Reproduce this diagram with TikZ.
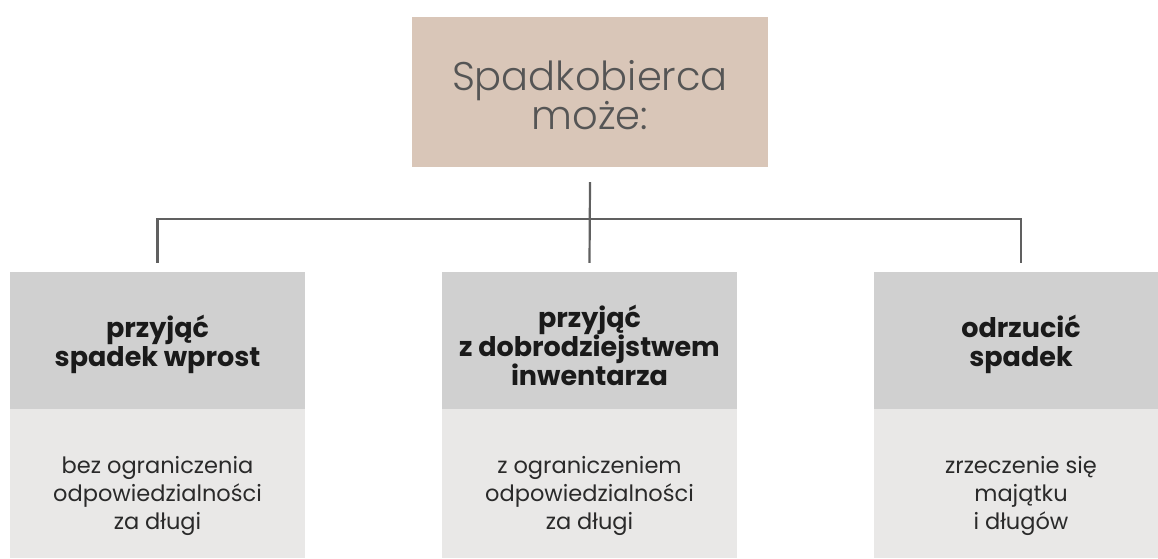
\documentclass[tikz,border=0pt]{standalone}
\usepackage{fontspec}
\setmainfont{Poppins}
\newfontfamily\lightfont{Poppins Light}
\definecolor{topbg}{HTML}{D9C6B8}
\definecolor{headbg}{HTML}{D0D0D0}
\definecolor{bodybg}{HTML}{E9E8E7}
\definecolor{linec}{HTML}{606060}
\definecolor{toptext}{HTML}{555555}
\definecolor{boldtext}{HTML}{1A1A1A}
\definecolor{bodytext}{HTML}{2A2A2A}
\begin{document}
\begin{tikzpicture}[x=1pt,y=-1pt,
  topbox/.style={fill=topbg, minimum width=356pt, minimum height=150pt, inner sep=0pt},
  toplabel/.style={text=toptext, align=center, inner sep=0pt, font=\lightfont\fontsize{40}{38}\selectfont},
  headbox/.style={fill=headbg, minimum width=295pt, minimum height=137pt, inner sep=0pt},
  headlabel/.style={align=center, inner sep=0pt, text=boldtext, font=\bfseries\fontsize{27}{29}\selectfont},
  bodybox/.style={fill=bodybg, minimum width=295pt, minimum height=149pt, inner sep=0pt},
  bodylabel/.style={align=center, inner sep=0pt, text=bodytext, font=\fontsize{22.5}{28}\selectfont},
  conn/.style={draw=linec, line width=2.2pt}]
\useasboundingbox (0,0) rectangle (1158,558);
\node[topbox] (top) at (590,92) {};
\node[toplabel] (topt) at ([yshift=-3pt]top.center) {Spadkobierca\\może:};
\node[headbox] (h1) at (157.5,340.5) {};
\node[headbox] (h2) at (589.5,340.5) {};
\node[headbox] (h3) at (1021,340.5) {};
\node[headlabel] (h1t) at ([yshift=-4pt]h1.center) {przyjąć\\spadek wprost};
\node[headlabel] (h2t) at ([yshift=-5pt]h2.center) {przyjąć\\z dobrodziejstwem\\inwentarza};
\node[headlabel] (h3t) at ([yshift=-4pt]h3.center) {odrzucić\\spadek};
\node[bodybox] (b1) at (157.5,483.5) {};
\node[bodybox] (b2) at (589.5,483.5) {};
\node[bodybox] (b3) at (1021,483.5) {};
\node[bodylabel] (b1t) at ([yshift=-12pt]b1.center) {bez ograniczenia\\odpowiedzialności\\za długi};
\node[bodylabel] (b2t) at ([yshift=-12pt]b2.center) {z ograniczeniem\\odpowiedzialności\\za długi};
\node[bodylabel] (b3t) at ([yshift=-12pt]b3.center) {zrzeczenie się\\majątku\\i długów};
\coordinate (hub) at (589.5,219);
\draw[conn] ([yshift=-15pt]top.south) -- ([yshift=9pt]h2.north);
\draw[conn] ([yshift=9pt]h1.north) |- (hub) -| ([yshift=9pt]h3.north);
\end{tikzpicture}
\end{document}
